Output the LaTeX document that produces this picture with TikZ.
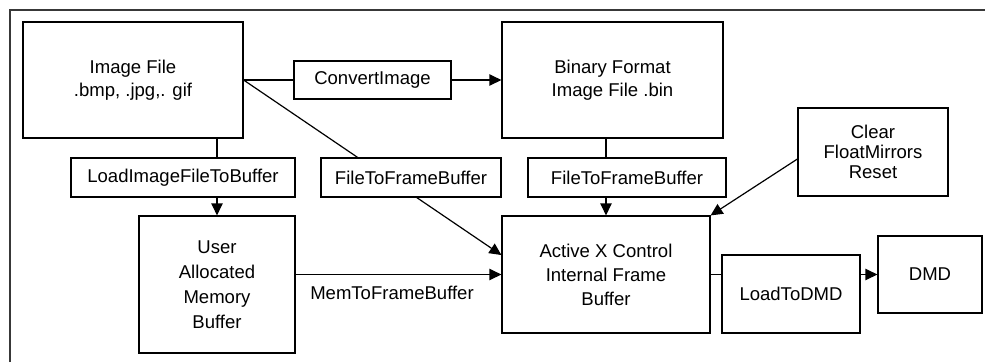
\documentclass[tikz,border=0pt]{standalone}
\usepackage{fontspec}
\setmainfont{Liberation Sans}
\usetikzlibrary{arrows.meta}
\begin{document}
\begin{tikzpicture}[x=0.75pt,y=-0.75pt,
  box/.style 2 args={draw=black,line width=0.9pt,fill=white,inner sep=0pt,align=center,
    minimum width=#1*0.75pt,minimum height=#2*0.75pt},
  txt/.style={font=\fontsize{13.9}{#1}\selectfont},
  conn/.style={draw=black,line width=0.9pt},
  arr/.style={conn,-{Triangle[length=9pt,width=8.5pt]}}]
\useasboundingbox (0,0) rectangle (985,362);
% outer frame (cropped)
\draw[line width=2pt,draw=black!78] (10,362) -- (10,10) -- (985,10);
% main boxes
\node[box={220}{116},txt=17.25pt] (img) at (133,80) {Image File\\.bmp, .jpg,. gif};
\node[box={221}{116},txt=17.25pt] (bin) at (612.5,80) {Binary Format\\Image File .bin};
\node[box={150}{88},txt=15pt] (clr) at (873,152) {Clear\\FloatMirrors\\Reset};
\node[box={156}{137},txt=18.75pt] (usr) at (217,284.5) {User\\Allocated\\Memory\\Buffer};
\node[box={208}{117},txt=18pt] (ax) at (606,274.5) {Active X Control\\Internal Frame\\Buffer};
\node[box={104}{77},txt=17pt] (dmd) at (930,274.5) {DMD};
% connectors
\draw[conn] (img.east) -- (294,80) coordinate (cvin);
\draw[arr] (451,80) coordinate (cvout) -- (bin.west);
\draw[arr] (img.east) -- ([yshift=14.6pt]ax.west);
\draw[arr] (usr.north |- img.south) -- (usr.north);
\draw[arr] (ax.north |- bin.south) -- (ax.north);
\draw[arr] ([yshift=-5.25pt]clr.west) -- (ax.north east);
\draw[arr] (usr.east |- ax.west) -- (ax.west);
\draw[conn] (ax.east) -- (722,274.5) coordinate (ldin);
\draw[arr] (860,274.5) coordinate (ldout) -- (dmd.west);
% label boxes on the connectors
\node[box={157}{38},txt=17pt] (cv) at (372.5,80) {ConvertImage};
\node[box={224}{39},txt=17pt] (lif) at (183,177.5) {LoadImageFileToBuffer};
\node[box={180}{39},txt=17pt] (ff1) at (411,177.5) {FileToFrameBuffer};
\node[box={198}{39},txt=17pt] (ff2) at (627,177.5) {FileToFrameBuffer};
\node[box={138}{78},txt=17pt] (ld) at (791,294) {LoadToDMD};
\node[anchor=west,inner sep=0pt,txt=17pt] (mem) at (310,293) {MemToFrameBuffer};
\end{tikzpicture}
\end{document}
